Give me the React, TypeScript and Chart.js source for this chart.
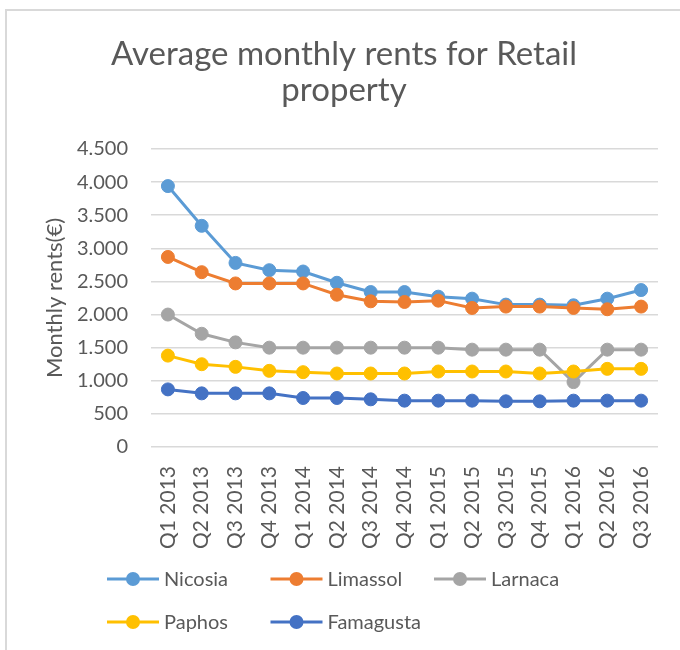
import React, { useEffect, useRef } from "react";
import { Chart, registerables } from "chart.js";

Chart.register(...registerables);

const categories = [
  "Q1 2013", "Q2 2013", "Q3 2013", "Q4 2013",
  "Q1 2014", "Q2 2014", "Q3 2014", "Q4 2014",
  "Q1 2015", "Q2 2015", "Q3 2015", "Q4 2015",
  "Q1 2016", "Q2 2016", "Q3 2016",
];

const nicosia = [3940, 3340, 2780, 2670, 2650, 2480, 2340, 2340, 2270, 2240, 2150, 2150, 2140, 2240, 2370];
const limassol = [2870, 2640, 2470, 2470, 2470, 2300, 2200, 2190, 2210, 2100, 2120, 2120, 2100, 2080, 2120];
const larnaca = [2000, 1710, 1580, 1500, 1500, 1500, 1500, 1500, 1500, 1470, 1470, 1470, 980, 1470, 1470];
const paphos = [1380, 1250, 1210, 1150, 1130, 1110, 1110, 1110, 1140, 1140, 1140, 1110, 1140, 1180, 1180];
const famagusta = [870, 810, 810, 810, 740, 740, 720, 700, 700, 700, 690, 690, 700, 700, 700];

const seriesNames = ["Nicosia", "Limassol", "Larnaca", "Paphos", "Famagusta"];
const seriesData = [nicosia, limassol, larnaca, paphos, famagusta];
const seriesColors = ["#5B9BD5", "#ED7D31", "#A5A5A5", "#FFC000", "#4472C4"];

const titleLines = ["Average monthly rents for Retail", "property"];
const yAxisTitle = "Monthly rents(€)";
const yMin = 0;
const yMax = 4500;
const yStep = 500;

const FONT = "Lato";
const TEXT = "#595959";

const formatThousands = (v: number) =>
  String(Math.round(v)).replace(/\B(?=(\d{3})+(?!\d))/g, ".");

const legendPlugin = {
  id: "excelLegend",
  afterDraw(chart: any) {
    const ctx = chart.ctx;
    const startX = 107;
    const colW = 163.5;
    const row1 = chart.height - 71;
    const rowH = 43;
    ctx.save();
    chart.data.datasets.forEach((ds: any, i: number) => {
      const col = i % 3;
      const row = Math.floor(i / 3);
      const x = startX + col * colW;
      const y = row1 + row * rowH;
      ctx.strokeStyle = ds.borderColor;
      ctx.lineWidth = 3;
      ctx.beginPath();
      ctx.moveTo(x, y);
      ctx.lineTo(x + 52, y);
      ctx.stroke();
      ctx.fillStyle = ds.borderColor;
      ctx.beginPath();
      ctx.arc(x + 26, y, 7, 0, Math.PI * 2);
      ctx.fill();
      ctx.fillStyle = TEXT;
      ctx.font = `20px ${FONT}`;
      ctx.textBaseline = "middle";
      ctx.textAlign = "left";
      ctx.fillText(ds.label, x + 57, y + 1);
    });
    ctx.restore();
  },
};

export default function App() {
  const ref = useRef<HTMLCanvasElement | null>(null);

  useEffect(() => {
    if (!ref.current) return;
    const chart = new Chart(ref.current, {
      type: "line",
      data: {
        labels: categories,
        datasets: seriesNames.map((name, i) => ({
          label: name,
          data: seriesData[i],
          borderColor: seriesColors[i],
          backgroundColor: seriesColors[i],
          pointBackgroundColor: seriesColors[i],
          pointBorderColor: seriesColors[i],
          borderWidth: 3,
          pointRadius: 6.5,
          pointBorderWidth: 1,
          tension: 0,
          fill: false,
          order: seriesNames.length - i,
        })),
      },
      options: {
        responsive: false,
        animation: false,
        devicePixelRatio: 1,
        layout: { padding: { top: 10, left: 30, right: 22, bottom: 100 } },
        plugins: {
          legend: { display: false },
          tooltip: { enabled: false },
          title: {
            display: true,
            text: titleLines,
            color: TEXT,
            font: { family: FONT, size: 33, weight: "normal", lineHeight: "36px" },
            padding: { top: 26, bottom: 41 },
          },
        },
        scales: {
          x: {
            offset: true,
            grid: { display: false, drawTicks: false },
            border: { display: false },
            ticks: {
              color: TEXT,
              font: { family: FONT, size: 21 },
              minRotation: 90,
              maxRotation: 90,
              padding: 19,
              autoSkip: false,
            },
            afterFit: (scale: any) => {
              scale.height = 103;
              scale.paddingLeft = 0;
              scale.paddingRight = 0;
            },
          },
          y: {
            min: yMin,
            max: yMax,
            grid: { color: "#D9D9D9", lineWidth: 1.5, drawTicks: false },
            border: { display: false },
            ticks: {
              stepSize: yStep,
              color: TEXT,
              font: { family: FONT, size: 20 },
              padding: 23,
              callback: (v: any) => formatThousands(Number(v)),
            },
            title: {
              display: true,
              text: yAxisTitle,
              color: TEXT,
              font: { family: FONT, size: 22, lineHeight: 1.2 },
              padding: { top: 12, bottom: 0 },
            },
            afterFit: (scale: any) => {
              scale.width = 121;
              scale.paddingTop = 0;
              scale.paddingBottom = 0;
            },
          },
        },
      },
      plugins: [legendPlugin],
    });
    return () => chart.destroy();
  }, []);

  return (
    <div style={{ position: "fixed", left: 0, top: 0, width: 680, height: 650, background: "#fff" }}>
      <div
        style={{
          position: "absolute",
          left: 5,
          top: 9,
          width: 700,
          height: 700,
          borderTop: "2px solid #D9D9D9",
          borderLeft: "2px solid #D9D9D9",
          boxSizing: "border-box",
        }}
      />
      <canvas ref={ref} width={680} height={650} style={{ position: "absolute", left: 0, top: 0 }} />
    </div>
  );
}
